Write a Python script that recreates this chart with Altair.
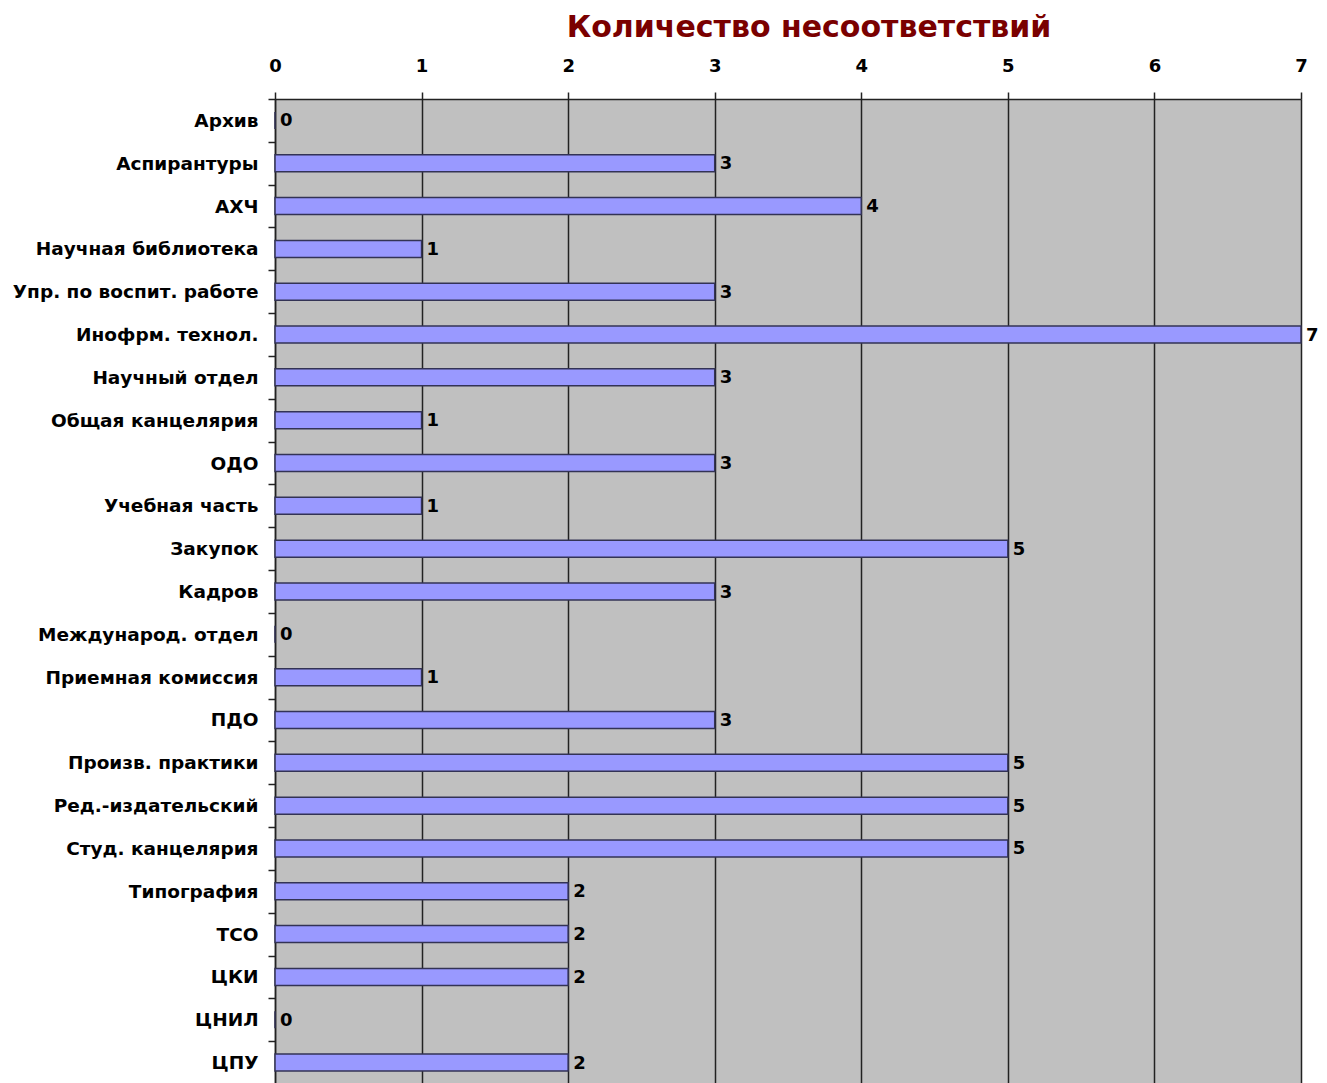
import altair as alt
import pandas as pd

departments = [
    "Архив", "Аспирантуры", "АХЧ", "Научная библиотека", "Упр. по воспит. работе",
    "Инофрм. технол.", "Научный отдел", "Общая канцелярия", "ОДО", "Учебная часть",
    "Закупок", "Кадров", "Международ. отдел", "Приемная комиссия", "ПДО",
    "Произв. практики", "Ред.-издательский", "Студ. канцелярия", "Типография",
    "ТСО", "ЦКИ", "ЦНИЛ", "ЦПУ",
]
counts = [0, 3, 4, 1, 3, 7, 3, 1, 3, 1, 5, 3, 0, 1, 3, 5, 5, 5, 2, 2, 2, 0, 2]
x_ticks = [0, 1, 2, 3, 4, 5, 6, 7]

df = pd.DataFrame({"dept": departments, "count": counts})

FONT = "DejaVu Sans"

x_enc = alt.X(
    "count:Q",
    scale=alt.Scale(domain=[0, 7], nice=False),
    axis=alt.Axis(
        orient="top", values=x_ticks, title=None, format="d", labelFlush=False,
        labelFont=FONT, labelFontSize=18, labelFontWeight="bold", labelColor="black",
        labelPadding=17, tickSize=7, tickColor="#222222", tickWidth=1.5,
        domainColor="#222222", domainWidth=1.5,
        grid=True, gridColor="#222222", gridWidth=1.5,
    ),
)
y_enc = alt.Y(
    "dept:N",
    sort=departments,
    scale=alt.Scale(paddingInner=0, paddingOuter=0),
    axis=alt.Axis(
        title=None, labelFont=FONT, labelFontSize=18.5, labelFontWeight="bold",
        labelColor="black", labelPadding=10, labelLimit=0, tickSize=7,
        tickColor="#222222", tickWidth=1.5, tickBand="extent",
        domainColor="#222222", domainWidth=1.5, grid=False,
    ),
)

bars = alt.Chart(df).mark_bar(
    size=17, color="#9999FF", stroke="#333355", strokeWidth=1.5
).encode(x=x_enc, y=y_enc)

labels = alt.Chart(df).mark_text(
    align="left", baseline="middle", dx=5, dy=1, font=FONT, fontSize=18,
    fontWeight="bold", color="black"
).encode(x="count:Q", y=alt.Y("dept:N", sort=departments), text="count:Q")

chart = (
    alt.layer(bars, labels)
    .properties(
        width=1026,
        height=985,
        background="white",
        autosize=alt.AutoSizeParams(type="none"),
        padding={"left": 267, "top": 91, "right": 18, "bottom": 0},
        title=alt.TitleParams(
            "Количество несоответствий", font=FONT, fontSize=30,
            fontWeight="bold", color="#7A0000", anchor="middle", dx=21, offset=14,
        ),
    )
    .configure_view(fill="#C0C0C0", stroke=None)
)

chart.save("out.html", embed_options={"renderer": "svg", "actions": False})
